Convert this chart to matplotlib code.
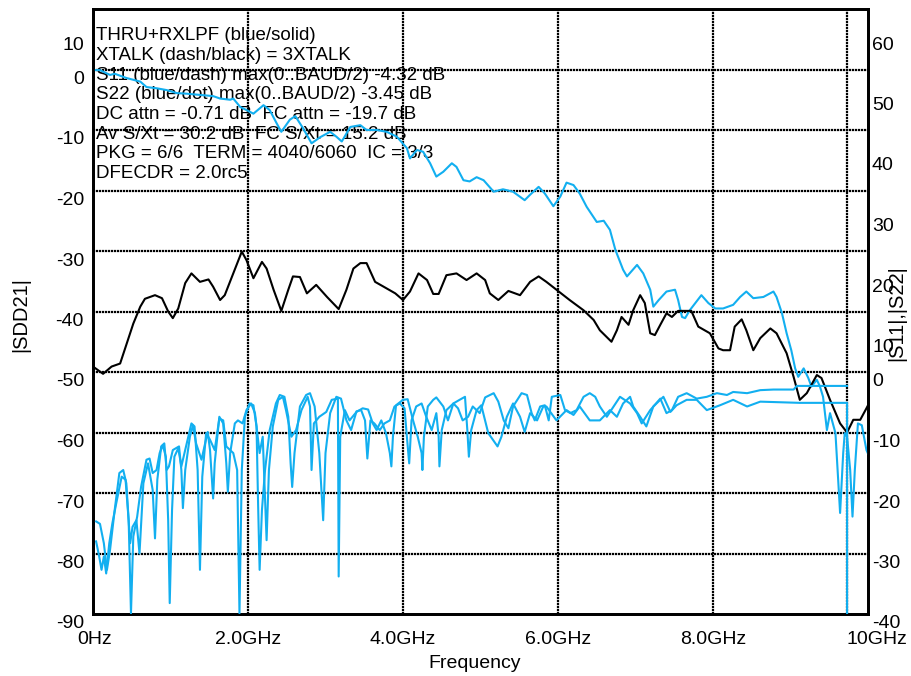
import matplotlib
matplotlib.use('Agg')
import matplotlib.pyplot as plt
import matplotlib.transforms as mtransforms
import numpy as np

plt.rcParams['font.family'] = ['Liberation Sans', 'DejaVu Sans']

AZUL = '#12aff0'

# THRU+RXLPF: (frequencia GHz, |SDD21| dB) - eixo esquerdo
thru = [
    (0.00, -0.1), (0.09, -0.1), (0.22, -0.9), (0.28, -0.7), (0.43, -1.4), (0.61, -2.0),
    (0.69, -2.9), (0.82, -3.1), (0.95, -3.4), (1.08, -3.9), (1.21, -4.0), (1.38, -4.2),
    (1.55, -4.4), (1.64, -4.8), (1.77, -5.0), (1.81, -4.8), (1.90, -6.2), (1.98, -6.7),
    (2.07, -7.3), (2.20, -5.9), (2.28, -6.7), (2.37, -8.9), (2.43, -10.3), (2.54, -8.3),
    (2.61, -7.7), (2.71, -9.7), (2.82, -12.2), (2.93, -11.2), (3.06, -10.3), (3.14, -11.1),
    (3.21, -11.9), (3.32, -9.5), (3.45, -9.2), (3.53, -10.0), (3.66, -10.0), (3.79, -10.3),
    (3.92, -11.1), (4.05, -13.0), (4.09, -14.7), (4.18, -13.3), (4.26, -13.6), (4.35, -15.5),
    (4.43, -17.7), (4.52, -16.9), (4.63, -15.5), (4.69, -16.1), (4.78, -18.3), (4.86, -18.5),
    (4.95, -17.8), (5.04, -18.3), (5.17, -20.2), (5.29, -19.8), (5.42, -20.2), (5.57, -21.6),
    (5.64, -20.7), (5.75, -19.4), (5.83, -20.5), (5.94, -22.6), (6.03, -21.0), (6.11, -18.7),
    (6.20, -19.1), (6.28, -20.5), (6.37, -22.7), (6.50, -25.2), (6.59, -25.0), (6.67, -26.5),
    (6.74, -29.8), (6.84, -33.1), (6.89, -34.2), (7.02, -32.3), (7.10, -33.7), (7.19, -36.4),
    (7.23, -39.2), (7.30, -38.1), (7.40, -36.7), (7.51, -36.4), (7.55, -38.1), (7.60, -40.9),
    (7.64, -41.1), (7.70, -39.8), (7.85, -37.3), (7.94, -38.6), (8.03, -39.5), (8.13, -39.5),
    (8.26, -38.9), (8.35, -37.6), (8.43, -36.7), (8.52, -37.8), (8.65, -37.6), (8.78, -36.7),
    (8.82, -37.6), (8.89, -40.3), (8.95, -43.6), (9.01, -46.4), (9.06, -49.4), (9.10, -50.8),
    (9.17, -49.4), (9.23, -51.0), (9.27, -52.4), (9.34, -51.3), (9.38, -52.4), (9.42, -54.1),
    (9.47, -59.6), (9.51, -56.8), (9.58, -60.1), (9.64, -73.3), (9.68, -63.4), (9.70, -60.1),
    (9.73, -60.7), (9.77, -66.2), (9.80, -73.9), (9.83, -66.2), (9.87, -58.5), (9.92, -58.8),
    (9.98, -62.9), (10.00, -63.5),
]

# XTALK (3XTALK): (GHz, dB) - eixo esquerdo
xtalk = [
    (0.00, -49.1), (0.13, -50.3), (0.24, -49.1), (0.35, -48.6), (0.43, -45.5), (0.52, -42.0),
    (0.61, -39.2), (0.67, -37.9), (0.80, -37.3), (0.89, -37.8), (0.97, -40.0), (1.03, -41.1),
    (1.10, -39.5), (1.19, -35.3), (1.27, -33.7), (1.38, -35.1), (1.49, -34.7), (1.55, -35.9),
    (1.64, -38.1), (1.70, -37.3), (1.81, -33.7), (1.92, -30.1), (1.98, -31.5), (2.07, -34.5),
    (2.18, -31.8), (2.24, -32.9), (2.33, -36.4), (2.43, -39.9), (2.52, -36.4), (2.58, -34.2),
    (2.67, -34.3), (2.76, -37.0), (2.88, -35.6), (3.02, -37.6), (3.17, -39.6), (3.27, -36.4),
    (3.36, -32.9), (3.45, -32.0), (3.53, -32.0), (3.64, -35.1), (3.75, -35.9), (3.90, -37.0),
    (4.00, -38.1), (4.09, -36.7), (4.20, -33.7), (4.31, -34.8), (4.39, -37.1), (4.46, -37.1),
    (4.56, -34.0), (4.69, -33.7), (4.82, -34.8), (4.95, -33.7), (5.06, -34.8), (5.12, -37.0),
    (5.23, -38.1), (5.36, -36.6), (5.51, -37.3), (5.64, -35.1), (5.75, -34.2), (5.85, -35.1),
    (5.98, -36.4), (6.15, -38.1), (6.33, -39.8), (6.46, -41.4), (6.54, -43.1), (6.69, -45.0),
    (6.76, -43.1), (6.82, -40.9), (6.91, -42.2), (6.97, -39.8), (7.06, -37.3), (7.12, -38.6),
    (7.19, -43.6), (7.25, -43.9), (7.32, -42.2), (7.40, -40.3), (7.47, -40.9), (7.55, -39.9),
    (7.72, -39.9), (7.81, -42.5), (7.96, -43.6), (8.07, -46.1), (8.13, -46.4), (8.22, -46.4),
    (8.28, -42.5), (8.37, -41.3), (8.43, -43.1), (8.52, -46.4), (8.61, -44.4), (8.74, -42.8),
    (8.82, -43.6), (8.95, -46.9), (9.04, -50.8), (9.12, -54.6), (9.21, -53.5), (9.34, -50.5),
    (9.40, -51.0), (9.51, -54.6), (9.64, -58.5), (9.73, -60.0), (9.81, -57.9), (9.90, -57.9),
    (9.98, -56.0), (10.00, -55.5),
]

# S22: (GHz, dB) - eixo direito
s22 = [
    (0.04, -24.7), (0.09, -25.1), (0.14, -28.3), (0.18, -32.7), (0.22, -29.4), (0.28, -22.8),
    (0.34, -16.7), (0.39, -16.2), (0.43, -18.4), (0.46, -24.5), (0.49, -39.9), (0.52, -27.2),
    (0.57, -23.9), (0.62, -19.0), (0.69, -14.5), (0.73, -14.3), (0.77, -16.7), (0.82, -16.2),
    (0.86, -13.4), (0.90, -12.1), (0.94, -14.0), (0.97, -24.5), (0.99, -38.2), (1.02, -22.8),
    (1.05, -14.0), (1.10, -12.6), (1.14, -15.6), (1.20, -12.3), (1.27, -8.5), (1.31, -9.0),
    (1.35, -16.2), (1.38, -32.7), (1.41, -17.3), (1.46, -10.1), (1.51, -11.2), (1.57, -12.9),
    (1.63, -7.7), (1.68, -8.0), (1.72, -12.3), (1.81, -13.4), (1.86, -16.2), (1.89, -39.9),
    (1.92, -16.2), (1.96, -7.4), (2.02, -5.2), (2.07, -5.5), (2.11, -9.0), (2.13, -21.7),
    (2.15, -32.7), (2.18, -22.8), (2.22, -16.2), (2.28, -9.6), (2.36, -5.2), (2.41, -3.8),
    (2.47, -4.1), (2.52, -7.4), (2.55, -15.1), (2.57, -19.0), (2.60, -13.4), (2.67, -5.7),
    (2.75, -3.8), (2.80, -3.5), (2.86, -5.7), (2.92, -13.4), (2.97, -24.5), (3.00, -13.4),
    (3.06, -6.8), (3.14, -4.1), (3.20, -4.4), (3.27, -8.0), (3.33, -9.6), (3.40, -6.5),
    (3.46, -6.3), (3.51, -8.0), (3.54, -14.3), (3.58, -8.0), (3.63, -8.5), (3.70, -9.6),
    (3.76, -8.5), (3.83, -8.0), (3.89, -5.7), (3.96, -5.2), (4.02, -6.0), (4.05, -10.7),
    (4.08, -15.1), (4.11, -8.0), (4.17, -5.7), (4.24, -5.2), (4.30, -7.4), (4.37, -9.6),
    (4.43, -6.8), (4.46, -10.7), (4.47, -15.6), (4.50, -9.6), (4.56, -6.3), (4.65, -5.2),
    (4.71, -6.0), (4.77, -8.0), (4.84, -7.4), (4.90, -5.7), (4.99, -6.8), (5.06, -4.2),
    (5.17, -3.5), (5.23, -4.9), (5.30, -8.0), (5.36, -9.3), (5.42, -5.7), (5.53, -3.5),
    (5.60, -3.8), (5.66, -6.8), (5.70, -8.0), (5.77, -5.7), (5.83, -5.5), (5.88, -8.0),
    (5.92, -4.1), (6.03, -3.8), (6.09, -6.3), (6.16, -6.8), (6.24, -6.3), (6.33, -4.1),
    (6.41, -3.5), (6.48, -4.1), (6.54, -5.7), (6.63, -7.4), (6.80, -4.1), (6.93, -5.2),
    (7.02, -6.8), (7.08, -8.5), (7.19, -6.3), (7.32, -4.4), (7.40, -6.8), (7.47, -6.3),
    (7.55, -4.1), (7.66, -3.5), (7.79, -4.4), (7.92, -4.1), (8.05, -3.5), (8.18, -3.8),
    (8.26, -3.3), (8.44, -3.5), (8.61, -3.0), (8.78, -2.9), (9.04, -2.9), (9.08, -2.3),
    (9.73, -2.3),
]

# S11: (GHz, dB) - eixo direito
s11 = [
    (0.04, -28.0), (0.08, -30.5), (0.11, -32.7), (0.14, -30.5), (0.17, -33.3), (0.21, -28.3),
    (0.25, -25.0), (0.30, -21.7), (0.37, -17.3), (0.42, -17.8), (0.45, -22.8), (0.48, -28.3),
    (0.51, -25.6), (0.56, -24.5), (0.60, -30.0), (0.65, -18.4), (0.71, -15.1), (0.77, -19.5),
    (0.80, -27.5), (0.83, -17.8), (0.88, -12.3), (0.92, -11.8), (0.95, -16.2), (0.98, -15.6),
    (1.03, -12.9), (1.11, -12.3), (1.14, -16.2), (1.16, -22.5), (1.19, -16.2), (1.25, -10.7),
    (1.29, -8.8), (1.33, -11.8), (1.40, -14.5), (1.48, -9.9), (1.51, -12.9), (1.55, -20.9),
    (1.57, -15.1), (1.63, -7.4), (1.68, -8.5), (1.72, -15.1), (1.74, -19.8), (1.77, -13.4),
    (1.83, -8.5), (1.87, -8.0), (1.93, -8.5), (1.98, -6.3), (2.04, -5.2), (2.09, -6.8),
    (2.15, -13.4), (2.19, -10.7), (2.24, -27.8), (2.27, -16.2), (2.32, -9.0), (2.39, -4.6),
    (2.45, -4.1), (2.49, -6.3), (2.56, -10.7), (2.62, -9.6), (2.69, -6.3), (2.77, -4.1),
    (2.80, -5.7), (2.82, -16.2), (2.85, -8.5), (2.92, -7.4), (3.01, -6.6), (3.08, -4.6),
    (3.16, -4.4), (3.17, -33.8), (3.19, -10.7), (3.25, -6.3), (3.31, -8.0), (3.40, -6.6),
    (3.48, -6.0), (3.55, -6.2), (3.61, -8.5), (3.66, -9.6), (3.72, -8.0), (3.78, -10.1),
    (3.83, -13.4), (3.85, -15.6), (3.87, -10.7), (3.91, -5.5), (4.00, -4.6), (4.06, -4.5),
    (4.13, -8.0), (4.19, -10.7), (4.24, -13.4), (4.25, -16.2), (4.27, -10.7), (4.32, -5.7),
    (4.39, -4.6), (4.43, -4.2), (4.52, -5.7), (4.58, -8.0), (4.65, -5.2), (4.73, -4.6),
    (4.80, -4.1), (4.83, -9.6), (4.85, -14.0), (4.88, -9.6), (4.95, -6.3), (5.01, -5.5),
    (5.10, -10.1), (5.22, -12.3), (5.27, -10.7), (5.34, -7.4), (5.42, -5.2), (5.51, -7.4),
    (5.57, -9.9), (5.64, -6.8), (5.73, -8.0), (5.81, -5.7), (5.85, -5.7), (5.98, -8.0),
    (6.11, -6.3), (6.20, -7.1), (6.28, -5.7), (6.41, -8.0), (6.54, -8.0), (6.67, -6.3),
    (6.76, -7.4), (6.84, -5.2), (6.93, -4.1), (6.97, -5.7), (7.06, -7.4), (7.14, -9.0),
    (7.23, -5.7), (7.36, -4.1), (7.45, -6.6), (7.53, -5.5), (7.66, -4.6), (7.79, -4.6),
    (7.92, -6.3), (8.09, -5.5), (8.26, -4.6), (8.44, -5.7), (8.61, -4.9), (9.12, -5.1),
    (9.73, -5.1), (9.73, -40.0),
]

ticks_esq = [10, 0, -10, -20, -30, -40, -50, -60, -70, -80, -90]
ticks_dir = [60, 50, 40, 30, 20, 10, 0, -10, -20, -30, -40]
ticks_freq = [0, 2, 4, 6, 8, 10]
rotulos_freq = ['0Hz', '2.0GHz', '4.0GHz', '6.0GHz', '8.0GHz', '10GHz']
meia_baud = 9.73  # marcador BAUD/2

legenda = [
    'THRU+RXLPF (blue/solid)',
    'XTALK (dash/black) = 3XTALK',
    'S11 (blue/dash) max(0..BAUD/2) -4.32 dB',
    'S22 (blue/dot) max(0..BAUD/2) -3.45 dB',
    'DC attn = -0.71 dB  FC attn = -19.7 dB',
    'Av S/Xt = 30.2 dB  FC S/Xt = 15.2 dB',
    'PKG = 6/6  TERM = 4040/6060  IC = 3/3',
    'DFECDR = 2.0rc5',
]

# Criando a figura
fig = plt.figure(figsize=(9.11, 6.76), dpi=100)
ax = fig.add_axes([93 / 911, 62 / 676, 775 / 911, 605 / 676])
ax2 = ax.twinx()

ax.set_xlim(0, 10)
ax.set_ylim(-90, 10)
ax2.set_ylim(-40, 60)
for a in (ax, ax2):
    a.set_xticks([])
    a.set_yticks([])
    for s in a.spines.values():
        s.set_linewidth(2)

# Grade pontilhada
grade = (0, (1, 0.35))
for v in ticks_esq[1:-1]:
    ax.axhline(v, color='black', lw=1.6, ls=grade, zorder=2)
for f in ticks_freq[1:-1] + [meia_baud]:
    ax.axvline(f, color='black', lw=1.6, ls=grade, zorder=2)

# Curvas
f, db = np.array(thru).T
ax.plot(f, db, color=AZUL, lw=1.5, zorder=3)
f, db = np.array(xtalk).T
ax.plot(f, db, color='black', lw=1.5, zorder=3)
f, db = np.array(s11).T
ax2.plot(f, db, color=AZUL, lw=1.5, zorder=3)
f, db = np.array(s22).T
ax2.plot(f, db, color=AZUL, lw=1.5, zorder=3)

# Texto com os parametros
for i, linha in enumerate(legenda):
    t = mtransforms.offset_copy(ax.transAxes, fig=fig, x=3, y=-(31 + 19.75 * i), units='dots')
    ax.text(0, 1, linha, transform=t, ha='left', va='baseline', fontsize=13.5, zorder=1)

# Rotulos dos eixos (posicionados a mao)
trans_esq = mtransforms.blended_transform_factory(ax.transAxes, ax.transData)
for v in ticks_esq:
    dy = -36 if v == ticks_esq[0] else -10
    t = mtransforms.offset_copy(trans_esq, fig=fig, x=-9, y=dy, units='dots')
    ax.text(0, v, str(v), transform=t, ha='right', va='center', fontsize=14, clip_on=False)

trans_dir = mtransforms.blended_transform_factory(ax2.transAxes, ax2.transData)
for v in ticks_dir:
    dy = -36 if v > 0 else -10
    t = mtransforms.offset_copy(trans_dir, fig=fig, x=4, y=dy, units='dots')
    ax2.text(1, v, str(v), transform=t, ha='left', va='center', fontsize=14, clip_on=False)

trans_x = mtransforms.blended_transform_factory(ax.transData, ax.transAxes)
for v, rot in zip(ticks_freq, rotulos_freq):
    dx = 2 if v == ticks_freq[0] else (9 if v == ticks_freq[-1] else 0)
    t = mtransforms.offset_copy(trans_x, fig=fig, x=dx, y=-26, units='dots')
    ax.text(v, 0, rot, transform=t, ha='center', va='center', fontsize=14, clip_on=False)

fig.text(475 / 911, 1 - 663 / 676, 'Frequency', ha='center', va='center', fontsize=14)
fig.text(21 / 911, 1 - 315 / 676, '|SDD21|', ha='center', va='center', rotation=90, fontsize=14.5)
fig.text(897 / 911, 1 - 313 / 676, '|S11|,|S22|', ha='center', va='center', rotation=90, fontsize=14.5)

fig.savefig('out.png', dpi=100)
